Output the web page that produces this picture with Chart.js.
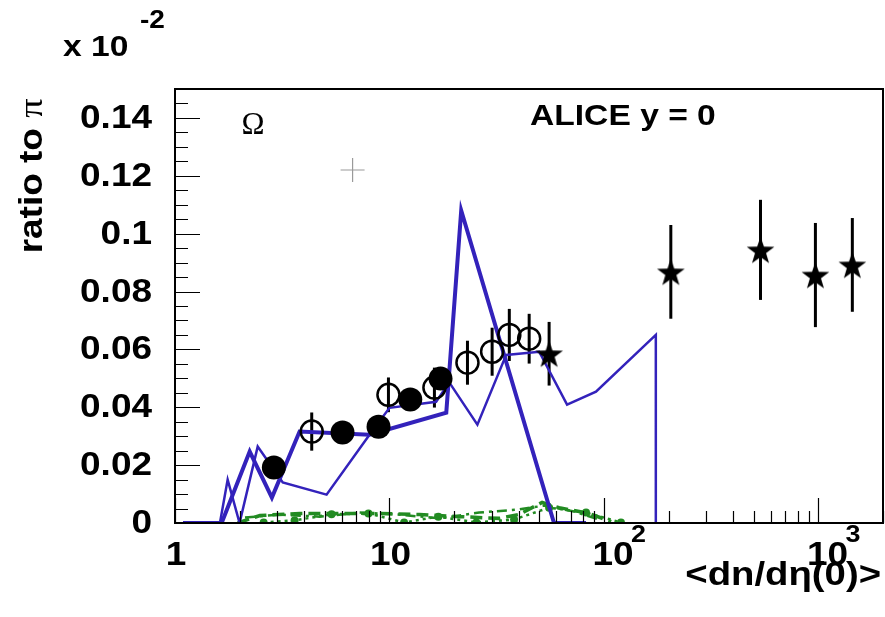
<!DOCTYPE html>
<html>
<head>
<meta charset="utf-8">
<script src="https://cdn.jsdelivr.net/npm/chart.js@4.4.0/dist/chart.umd.min.js"></script>
<style>
  html, body { margin: 0; padding: 0; background: #fff; }
  canvas { display: block; }
</style>
</head>
<body>
<canvas id="chart" width="885" height="617"></canvas>
<script>
const X_MIN = 1;
const X_MAX = 2000;
const Y_MIN = 0;
const Y_MAX = 0.15;

const Y_TICKS = [0, 0.02, 0.04, 0.06, 0.08, 0.1, 0.12, 0.14];
const Y_TICK_LABELS = ["0", "0.02", "0.04", "0.06", "0.08", "0.1", "0.12", "0.14"];
const X_TICKS = [1, 10, 100, 1000];
const X_TICK_LABELS = ["1", "10", "10", "10"];
const X_TICK_EXPONENTS = ["", "", "2", "3"];

// data points
const fullX = [2.89, 6.04, 8.89, 12.5, 17.3];
const fullY = [0.0192, 0.0313, 0.0333, 0.0427, 0.0499];

const openX = [4.34, 9.89, 16.2, 23.1, 30.1, 36.2, 44.8];
const openY = [0.0316, 0.0443, 0.0468, 0.0554, 0.0592, 0.065, 0.0637];
const openErr = [0.0066, 0.006, 0.0069, 0.0076, 0.0083, 0.009, 0.0086];

const starX = [55.5, 205, 537, 968, 1439];
const starY = [0.0585, 0.0868, 0.0944, 0.0857, 0.0892];
const starErr = [0.011, 0.0162, 0.0173, 0.018, 0.0162];

const crossX = [6.73];
const crossY = [0.122];

// model curves
const thickX = [1.09, 1.65, 2.23, 2.83, 3.81, 8.07, 18.4, 21.6, 58.5, 82.5];
const thickY = [0, 0, 0.0247, 0.0088, 0.0316, 0.0305, 0.0381, 0.108, 0, 0];

const thinX = [1.62, 1.76, 2.0, 2.43, 3.18, 5.09, 8.07, 10.0, 16.5, 19.0, 25.7, 35.0, 49.9, 67.3, 91.8, 174.5, 174.5];
const thinY = [0, 0.015, 0, 0.0264, 0.014, 0.0098, 0.0305, 0.0398, 0.0419, 0.0486, 0.034, 0.0581, 0.0592, 0.0409, 0.0454, 0.065, 0];

const greenDotX = [2.59, 3.61, 5.37, 7.98, 11.7, 16.9, 25.4, 38.1, 55.5, 82.5, 120];
const greenDotY = [0.0002, 0.0009, 0.003, 0.0033, 0.0002, 0.0022, 0.0002, 0.0012, 0.0053, 0.0036, 0.0002];

const greenDashX = [1.96, 2.49, 3.81, 5.85, 8.98, 13.8, 21.2, 32.5, 40.3, 51.5, 61.8, 85.2, 108];
const greenDashY = [0, 0.0026, 0.0033, 0.0033, 0.0033, 0.0029, 0.0022, 0.0016, 0.003, 0.0071, 0.0053, 0.0033, 0.0005];

const greenDashDotX = [2.12, 3.08, 4.72, 7.25, 11.1, 17.1, 26.2, 40.3, 52.6, 72.5, 94.8];
const greenDashDotY = [0.0019, 0.0029, 0.0022, 0.0036, 0.0029, 0.0016, 0.0036, 0.0047, 0.006, 0.004, 0.0012];

const BLUE = "#3322bb";
const GREEN = "#228b22";
const FONT = "'Liberation Sans', Arial, Helvetica, sans-serif";
const SERIF = "'Liberation Serif', 'DejaVu Serif', serif";
const STRETCH = 1.12; // root text is a bit wider than Liberation Sans

function pts(xs, ys) {
  return xs.map((x, i) => ({ x, y: ys[i] }));
}

function makeStar(outer, inner) {
  const c = document.createElement("canvas");
  const size = Math.ceil(outer * 2 + 2);
  c.width = size;
  c.height = size;
  const g = c.getContext("2d");
  const cx = size / 2;
  const cy = size / 2 + outer * 0.1;
  g.beginPath();
  for (let i = 0; i < 10; i += 1) {
    const r = i % 2 === 0 ? outer : inner;
    const a = -Math.PI / 2 + (i * Math.PI) / 5;
    const px = cx + r * Math.cos(a);
    const py = cy + r * Math.sin(a);
    if (i === 0) g.moveTo(px, py);
    else g.lineTo(px, py);
  }
  g.closePath();
  g.fillStyle = "#000";
  g.fill();
  return c;
}

function drawErrors(chart, xs, ys, errs) {
  const { ctx, scales } = chart;
  for (let i = 0; i < xs.length; i += 1) {
    const px = scales.x.getPixelForValue(xs[i]);
    ctx.beginPath();
    ctx.moveTo(px, scales.y.getPixelForValue(ys[i] - errs[i]));
    ctx.lineTo(px, scales.y.getPixelForValue(ys[i] + errs[i]));
    ctx.stroke();
  }
}

function text(ctx, str, x, y, font, align, baseline, stretch = STRETCH) {
  ctx.save();
  ctx.translate(x, y);
  ctx.scale(stretch, 1);
  ctx.font = font;
  ctx.textAlign = align;
  ctx.textBaseline = baseline;
  ctx.fillText(str, 0, 0);
  ctx.restore();
}

const rootFrame = {
  id: "rootFrame",
  beforeDatasetsDraw(chart) {
    const { ctx } = chart;
    ctx.save();
    ctx.strokeStyle = "#000";
    ctx.lineWidth = 3;
    drawErrors(chart, openX, openY, openErr);
    drawErrors(chart, starX, starY, starErr);
    ctx.restore();
  },
  afterDraw(chart) {
    const { ctx, chartArea: a, scales } = chart;
    const xs = scales.x;
    const ys = scales.y;
    ctx.save();

    // ticks (inside the frame)
    ctx.strokeStyle = "#000";
    ctx.lineWidth = 1.2;
    ctx.beginPath();
    for (let i = 0; i <= 30; i += 1) {
      const py = Math.round(ys.getPixelForValue(i * 0.005)) + 0.5;
      const len = i % 4 === 0 ? 25 : 13;
      ctx.moveTo(a.left, py);
      ctx.lineTo(a.left + len, py);
    }
    for (const d of X_TICKS) {
      for (let m = 1; m <= 9; m += 1) {
        const v = m * d;
        if (v > X_MAX) break;
        const px = Math.round(xs.getPixelForValue(v)) + 0.5;
        const len = m === 1 ? 25 : 12;
        ctx.moveTo(px, a.bottom);
        ctx.lineTo(px, a.bottom - len);
      }
    }
    ctx.stroke();

    // frame
    ctx.lineWidth = 2;
    ctx.strokeRect(a.left, a.top, a.right - a.left, a.bottom - a.top);

    ctx.fillStyle = "#000";
    const tickFont = `bold 33px ${FONT}`;

    // y tick labels
    Y_TICKS.forEach((v, i) => {
      text(ctx, Y_TICK_LABELS[i], 152, ys.getPixelForValue(v) + 1, tickFont, "right", "middle");
    });

    // x tick labels
    X_TICKS.forEach((v, i) => {
      const px = xs.getPixelForValue(v);
      if (X_TICK_EXPONENTS[i]) {
        text(ctx, X_TICK_LABELS[i], px + 9, 539, tickFont, "center", "top");
        text(ctx, X_TICK_EXPONENTS[i], px + 27, 523, `bold 24px ${FONT}`, "left", "top");
      } else {
        text(ctx, X_TICK_LABELS[i], px + 1, 539, tickFont, "center", "top");
      }
    });

    // exponent of the y axis
    text(ctx, "x 10", 63, 48, `bold 30px ${FONT}`, "left", "middle");
    text(ctx, "-2", 140, 21, `bold 25px ${FONT}`, "left", "middle");

    // axis titles
    text(ctx, "<dn/d\u03b7(0)>", 881, 576, `bold 33px ${FONT}`, "right", "middle", 1.16);

    ctx.save();
    ctx.translate(33, 176);
    ctx.rotate(-Math.PI / 2);
    ctx.scale(STRETCH, 1);
    ctx.textBaseline = "middle";
    ctx.textAlign = "left";
    ctx.font = `bold 33px ${FONT}`;
    const w1 = ctx.measureText("ratio to ").width;
    ctx.font = `34px ${SERIF}`;
    const w2 = ctx.measureText("\u03c0").width;
    const start = -(w1 + w2) / 2;
    ctx.font = `bold 33px ${FONT}`;
    ctx.fillText("ratio to ", start, 0);
    ctx.font = `34px ${SERIF}`;
    ctx.fillText("\u03c0", start + w1, 0);
    ctx.restore();

    // labels
    text(ctx, "ALICE y = 0", 530, 117, `bold 30px ${FONT}`, "left", "middle");
    text(ctx, "\u03a9", 253, 126, `31px ${SERIF}`, "center", "middle", 1);

    ctx.restore();
  },
};

const lineDefaults = {
  showLine: true,
  pointRadius: 0,
  fill: false,
  tension: 0,
};

new Chart(document.getElementById("chart"), {
  type: "scatter",
  data: {
    datasets: [
      {
        label: "full",
        data: pts(fullX, fullY),
        pointStyle: "circle",
        pointRadius: 12,
        backgroundColor: "#000",
        borderColor: "#000",
        borderWidth: 0,
        order: 0,
      },
      {
        label: "open",
        data: pts(openX, openY),
        pointStyle: "circle",
        pointRadius: 11,
        backgroundColor: "rgba(0,0,0,0)",
        borderColor: "#000",
        borderWidth: 2.5,
        order: 0,
      },
      {
        label: "star",
        data: pts(starX, starY),
        pointStyle: makeStar(14.5, 5.8),
        order: 0,
      },
      {
        label: "cross",
        data: pts(crossX, crossY),
        pointStyle: "cross",
        pointRadius: 12,
        borderColor: "#9a9a9a",
        borderWidth: 1.2,
        order: 0,
      },
      {
        ...lineDefaults,
        label: "thick",
        data: pts(thickX, thickY),
        borderColor: BLUE,
        borderWidth: 4,
        order: 5,
      },
      {
        ...lineDefaults,
        label: "thin",
        data: pts(thinX, thinY),
        borderColor: BLUE,
        borderWidth: 2.5,
        order: 5,
      },
      {
        ...lineDefaults,
        label: "greenDash",
        data: pts(greenDashX, greenDashY),
        borderColor: GREEN,
        borderWidth: 3.5,
        borderDash: [12, 6],
        order: 6,
      },
      {
        ...lineDefaults,
        label: "greenDashDot",
        data: pts(greenDashDotX, greenDashDotY),
        borderColor: GREEN,
        borderWidth: 2.5,
        borderDash: [10, 5, 3, 5],
        order: 6,
      },
      {
        label: "greenDot",
        data: pts(greenDotX, greenDotY),
        showLine: true,
        borderColor: GREEN,
        backgroundColor: GREEN,
        borderWidth: 2.5,
        borderDash: [3, 4],
        pointRadius: 4,
        pointBorderWidth: 0,
        order: 6,
      },
    ],
  },
  options: {
    responsive: false,
    animation: false,
    layout: { autoPadding: false, padding: { left: 175, top: 89, right: 2, bottom: 94 } },
    plugins: {
      legend: { display: false },
      tooltip: { enabled: false },
    },
    scales: {
      x: { type: "logarithmic", min: X_MIN, max: X_MAX, display: false },
      y: { type: "linear", min: Y_MIN, max: Y_MAX, display: false },
    },
  },
  plugins: [rootFrame],
});
</script>
</body>
</html>
